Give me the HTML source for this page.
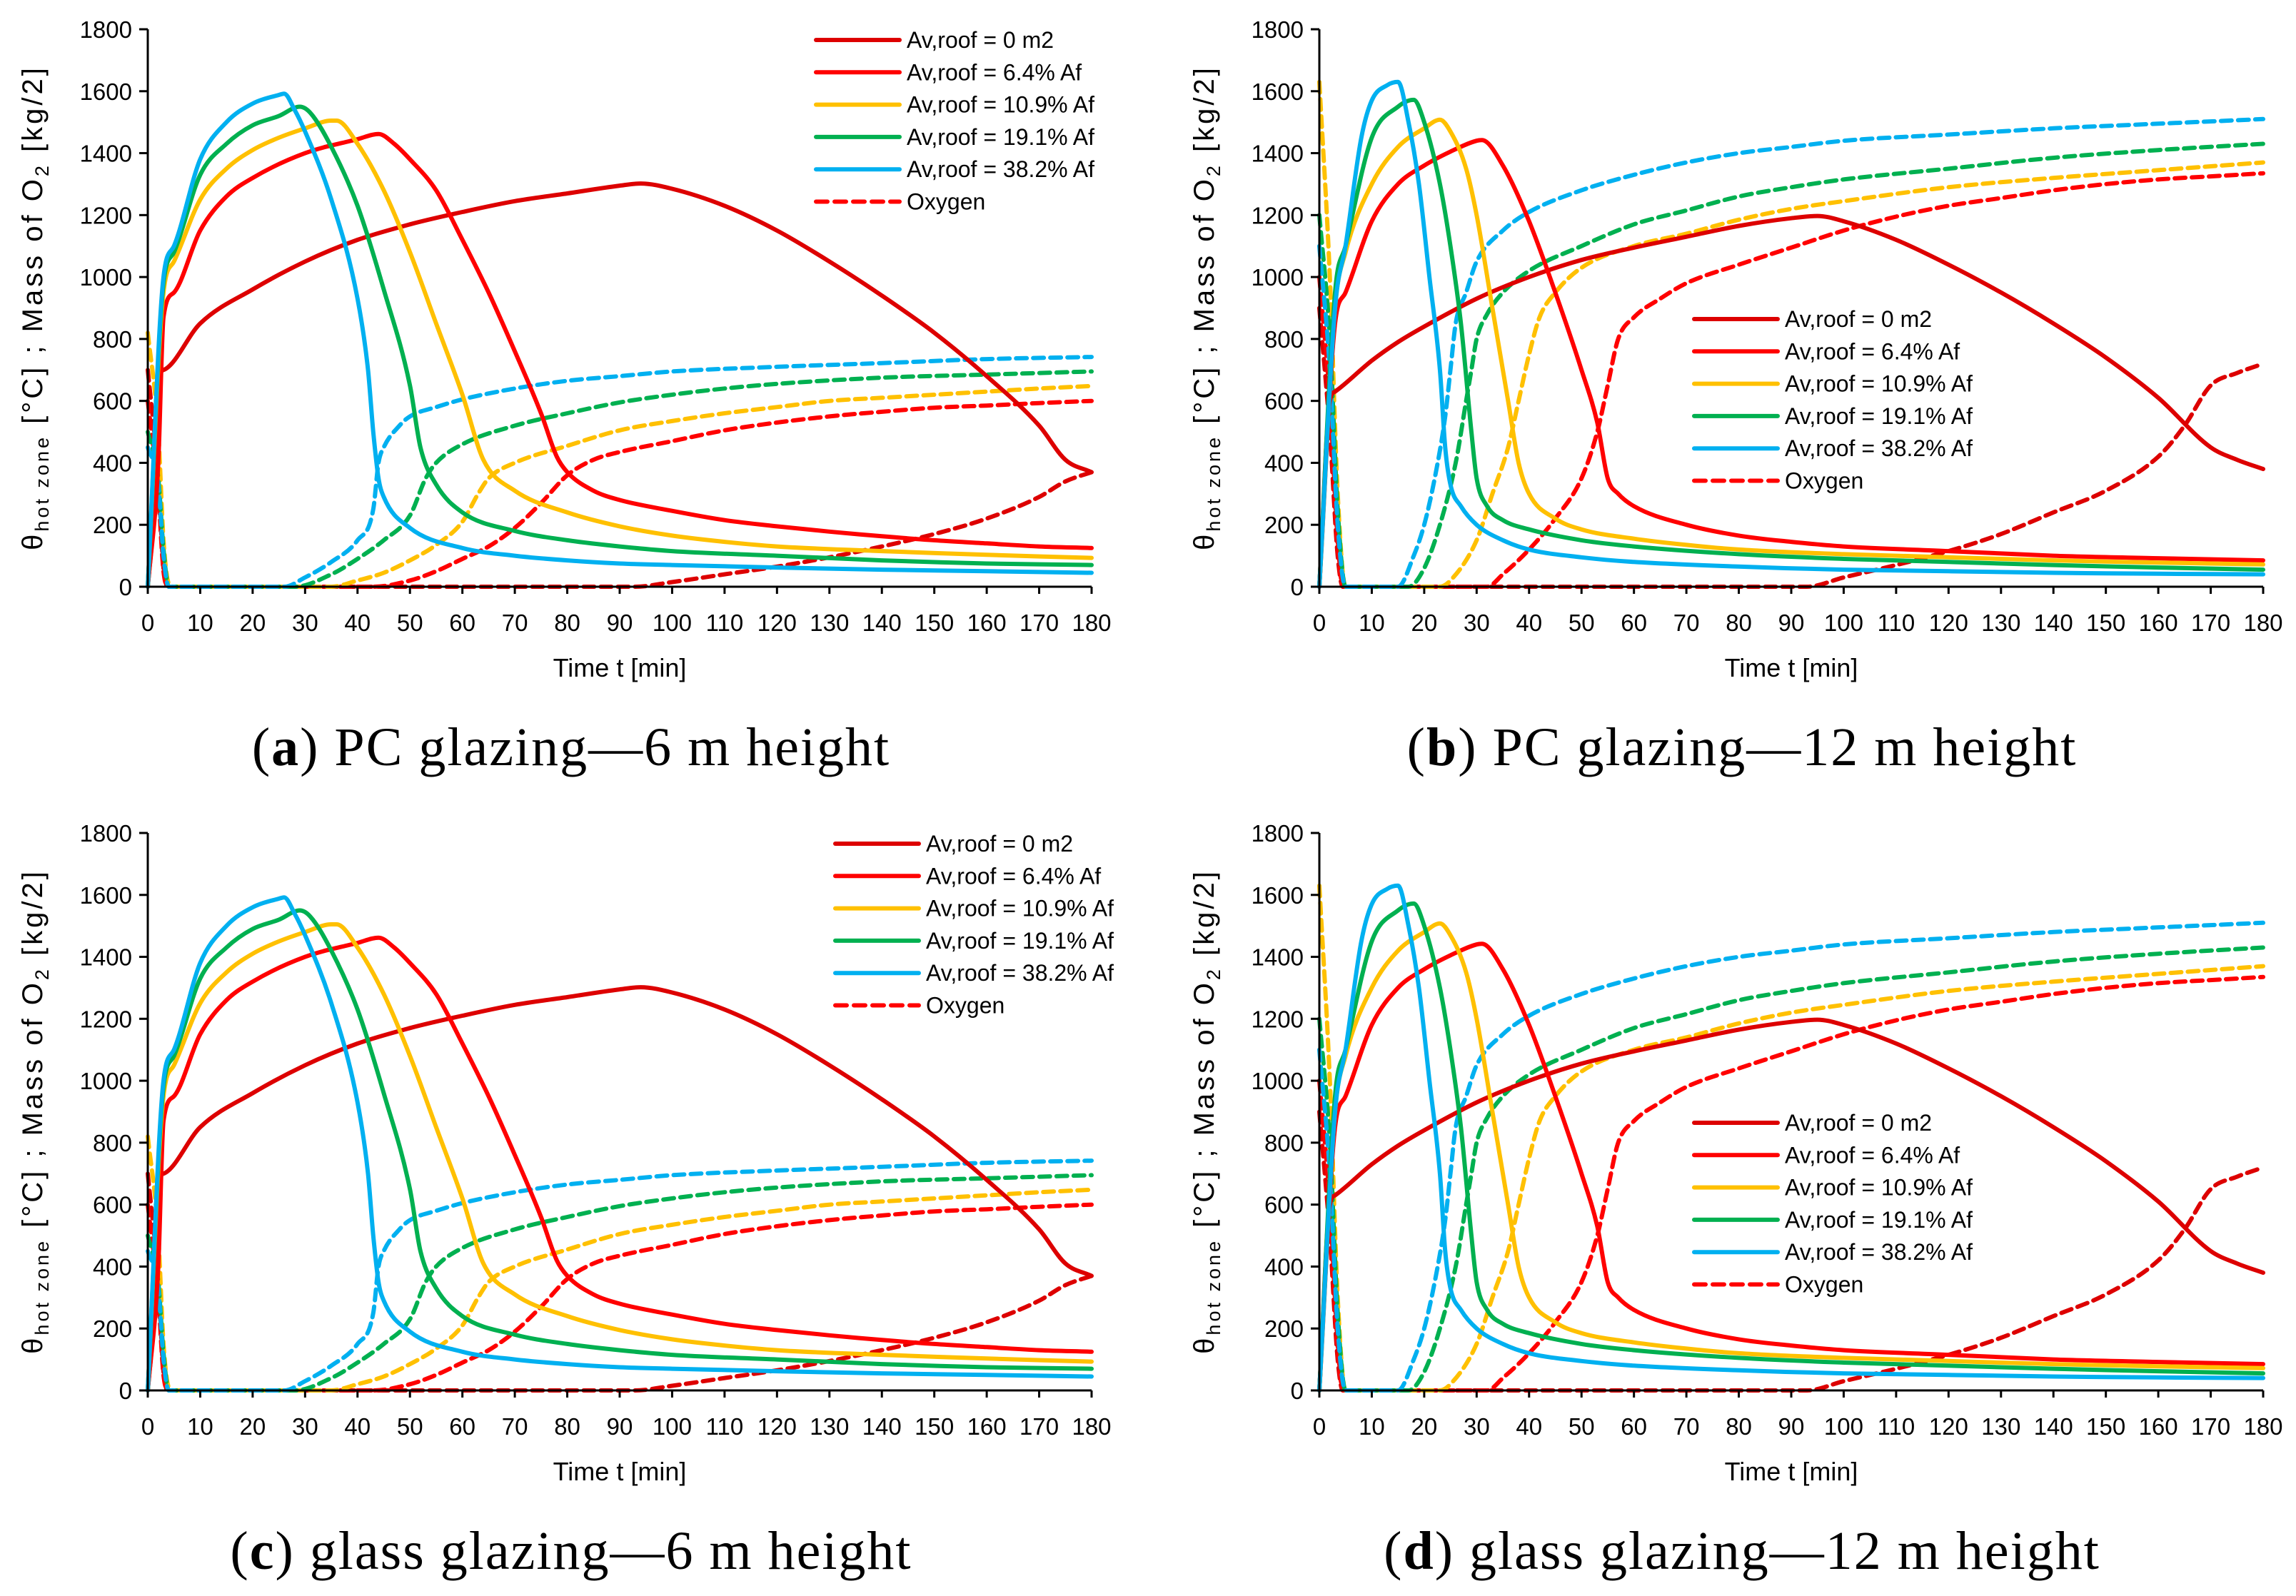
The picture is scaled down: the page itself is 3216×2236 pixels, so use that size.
<!DOCTYPE html>
<html><head><meta charset="utf-8">
<style>
html,body{margin:0;padding:0;background:#fff;}
svg{display:block;}
text{font-family:"Liberation Sans",sans-serif;fill:#000;}
.cap{font-family:"Liberation Serif",serif;}
</style></head>
<body>
<svg id="fig" width="3216" height="2236" viewBox="0 0 3216 2236" xmlns="http://www.w3.org/2000/svg"></svg>
<script>
// ===== Data: 6 m height (panels a, c) =====
const xTicks = [0,10,20,30,40,50,60,70,80,90,100,110,120,130,140,150,160,170,180];
const yTicks = [0,200,400,600,800,1000,1200,1400,1600,1800];
const legendLabels = ["Av,roof = 0 m2","Av,roof = 6.4% Af","Av,roof = 10.9% Af","Av,roof = 19.1% Af","Av,roof = 38.2% Af","Oxygen"];
const seriesColors = ["#dd0000","#ff0000","#ffc000","#00b050","#00b0f0"];

const h6_T_0 = [[0,0],[1.5,300],[2.5,690],[3,700],[10,850],[20,960],[30,1050],[40,1120],[50,1170],[60,1210],[70,1245],[80,1270],[90,1295],[94,1302],[100,1285],[110,1230],[120,1150],[130,1050],[140,940],[150,820],[160,680],[170,520],[175,410],[180,370]];
const h6_T_64 = [[0,0],[2,400],[3,870],[5,950],[10,1150],[15,1260],[20,1320],[30,1400],[40,1445],[44,1462],[47,1430],[50,1380],[55,1280],[60,1120],[65,950],[70,760],[75,560],[78,420],[80,370],[85,310],[90,280],[100,245],[110,215],[120,195],[130,178],[140,163],[150,150],[160,140],[170,130],[180,125]];
const h6_T_109 = [[0,0],[3,950],[5,1050],[10,1250],[15,1350],[20,1410],[25,1450],[30,1480],[35,1505],[36,1505],[40,1430],[45,1280],[50,1080],[55,850],[60,620],[64,410],[70,310],[80,240],[90,195],[100,165],[110,145],[120,130],[140,115],[160,103],[180,93]];
const h6_T_191 = [[0,0],[3,980],[5,1080],[10,1330],[15,1430],[20,1490],[25,1520],[29,1550],[31,1530],[35,1420],[40,1230],[45,960],[50,650],[52,450],[55,330],[60,240],[70,180],[80,150],[90,130],[100,115],[120,100],[140,85],[160,75],[180,70]];
const h6_T_382 = [[0,0],[3,1000],[5,1100],[10,1380],[15,1500],[20,1560],[25,1588],[26,1592],[28,1540],[30,1470],[35,1250],[40,930],[42,700],[43,500],[44,350],[45,290],[50,190],[60,125],[70,100],[80,85],[90,75],[100,70],[120,62],[140,55],[160,50],[180,45]];
const h6_O_0 = [[0,700],[2,350],[3,60],[4,0],[93,0],[100,15],[110,40],[120,65],[130,95],[140,130],[150,170],[160,220],[170,290],[175,340],[180,370]];
const h6_O_64 = [[0,600],[2,300],[3,50],[4,0],[43,0],[50,20],[55,50],[60,90],[65,130],[70,190],[75,270],[80,360],[85,410],[90,435],[100,470],[110,505],[120,530],[130,550],[140,565],[150,578],[160,585],[170,593],[180,600]];
const h6_O_109 = [[0,820],[2,500],[3,150],[4,10],[5,0],[35,0],[40,20],[45,45],[50,85],[55,135],[60,210],[63,300],[65,350],[70,400],[80,455],[90,505],[100,535],[110,560],[120,580],[130,600],[140,610],[150,620],[160,630],[170,640],[180,648]];
const h6_O_191 = [[0,500],[2,350],[3,120],[4,0],[28,0],[35,40],[40,90],[45,150],[50,230],[53,350],[55,400],[60,460],[70,520],[80,560],[90,595],[100,620],[110,640],[120,655],[140,675],[160,685],[180,695]];
const h6_O_382 = [[0,450],[2,330],[3,100],[4,0],[26,0],[30,30],[35,80],[40,150],[43,250],[44,400],[45,450],[48,520],[50,550],[55,580],[60,605],[70,640],[80,665],[90,680],[100,695],[120,710],[140,722],[160,735],[180,742]];

// ===== Data: 12 m height (panels b, d) =====
const h12_T_0 = [[0,0],[2,600],[3,630],[10,730],[15,790],[20,840],[30,930],[40,1000],[50,1055],[60,1095],[70,1130],[80,1165],[90,1190],[95,1197],[100,1180],[110,1120],[120,1040],[130,950],[140,850],[150,740],[160,610],[170,450],[175,410],[180,380]];
const h12_T_64 = [[0,0],[3,850],[5,950],[10,1180],[15,1300],[20,1360],[25,1405],[30,1440],[31,1442],[35,1360],[40,1180],[45,950],[50,700],[53,530],[55,350],[57,300],[60,260],[70,200],[80,165],[90,145],[100,130],[120,115],[140,100],[160,92],[180,85]];
const h12_T_109 = [[0,0],[3,900],[5,1080],[10,1300],[15,1420],[20,1480],[23,1508],[25,1470],[28,1350],[30,1200],[33,900],[36,600],[38,400],[40,300],[45,220],[50,185],[60,155],[70,135],[80,120],[100,105],[120,95],[140,85],[160,78],[180,72]];
const h12_T_191 = [[0,0],[3,950],[5,1100],[10,1450],[15,1550],[18,1572],[20,1500],[23,1300],[25,1100],[27,850],[29,500],[30,350],[32,260],[35,215],[40,185],[50,150],[60,130],[80,105],[100,90],[120,80],[140,70],[160,62],[180,55]];
const h12_T_382 = [[0,0],[3,900],[5,1100],[8,1450],[10,1570],[13,1620],[15,1630],[17,1500],[19,1300],[21,1000],[23,700],[24,450],[25,330],[27,260],[30,200],[35,150],[40,120],[50,95],[60,80],[80,65],[100,55],[120,50],[140,45],[160,42],[180,40]];
const h12_O_0 = [[0,900],[2,500],[3.5,100],[4.5,0],[93,0],[100,30],[110,70],[120,115],[130,170],[140,240],[150,310],[160,420],[165,520],[170,650],[175,690],[180,720]];
const h12_O_64 = [[0,1000],[2,600],[3.5,150],[4.5,0],[32,0],[35,40],[40,120],[45,220],[50,350],[53,500],[55,650],[57,800],[60,870],[65,930],[70,980],[80,1040],[90,1095],[100,1150],[110,1195],[120,1230],[130,1255],[140,1280],[150,1300],[160,1315],[170,1325],[180,1335]];
const h12_O_109 = [[0,1630],[2,1000],[3.5,300],[5,0],[23,0],[25,20],[30,150],[33,300],[36,450],[38,600],[40,750],[42,870],[45,950],[50,1030],[60,1100],[70,1140],[80,1185],[90,1220],[100,1245],[120,1290],[140,1320],[160,1345],[180,1370]];
const h12_O_191 = [[0,1200],[2,800],[3.5,250],[5,0],[17,0],[20,60],[23,200],[26,400],[28,600],[29,700],[30,800],[32,880],[35,950],[40,1020],[50,1100],[60,1170],[70,1215],[80,1260],[90,1290],[100,1315],[120,1350],[140,1385],[160,1410],[180,1430]];
const h12_O_382 = [[0,1100],[2,700],[3.5,200],[5,0],[15,0],[18,100],[20,200],[22,350],[24,550],[25,700],[26,850],[28,950],[30,1050],[35,1150],[40,1210],[50,1280],[60,1330],[70,1370],[80,1400],[90,1420],[100,1440],[120,1460],[140,1480],[160,1495],[180,1510]];

const set6 = {T:[h6_T_0,h6_T_64,h6_T_109,h6_T_191,h6_T_382], O:[h6_O_0,h6_O_64,h6_O_109,h6_O_191,h6_O_382]};
const set12 = {T:[h12_T_0,h12_T_64,h12_T_109,h12_T_191,h12_T_382], O:[h12_O_0,h12_O_64,h12_O_109,h12_O_191,h12_O_382]};

const NS = "http://www.w3.org/2000/svg";
const svg = document.getElementById('fig');
function mk(tag, attrs, parent){const e=document.createElementNS(NS,tag);for(const k in attrs)e.setAttribute(k,attrs[k]);(parent||svg).appendChild(e);return e;}

// monotone cubic path (Fritsch-Carlson) in pixel space
function smoothPath(pts){
  const n=pts.length; if(n<3) return 'M'+pts.map(p=>p.join(',')).join(' L');
  const d=[],m=new Array(n);
  for(let i=0;i<n-1;i++){const dx=pts[i+1][0]-pts[i][0];d.push(dx===0?0:(pts[i+1][1]-pts[i][1])/dx);}
  m[0]=d[0];m[n-1]=d[n-2];
  for(let i=1;i<n-1;i++){m[i]=(d[i-1]*d[i]<=0)?0:(d[i-1]+d[i])/2;}
  for(let i=0;i<n-1;i++){if(d[i]===0){m[i]=0;m[i+1]=0;continue;}const a=m[i]/d[i],b=m[i+1]/d[i],s=a*a+b*b;if(s>9){const t=3/Math.sqrt(s);m[i]=t*a*d[i];m[i+1]=t*b*d[i];}}
  let s='M'+pts[0][0].toFixed(1)+','+pts[0][1].toFixed(1);
  for(let i=0;i<n-1;i++){const h=(pts[i+1][0]-pts[i][0])/3;
    s+=' C'+(pts[i][0]+h).toFixed(1)+','+(pts[i][1]+m[i]*h).toFixed(1)+' '+(pts[i+1][0]-h).toFixed(1)+','+(pts[i+1][1]-m[i+1]*h).toFixed(1)+' '+pts[i+1][0].toFixed(1)+','+pts[i+1][1].toFixed(1);}
  return s;
}

const panels = [
 {id:'a', x0:207, y0:0, data:set6, leg:[1143,56], cap:["a"," PC glazing\u20146 m height"], capX:800},
 {id:'b', x0:1848, y0:0, data:set12, leg:[2373,447], cap:["b"," PC glazing\u201412 m height"], capX:2440},
 {id:'c', x0:207, y0:1126, data:set6, leg:[1170,1182], cap:["c"," glass glazing\u20146 m height"], capX:800},
 {id:'d', x0:1848, y0:1126, data:set12, leg:[2373,1573], cap:["d"," glass glazing\u201412 m height"], capX:2440}
];
const PW = 1322, YTOP = 41, YBOT = 822;

panels.forEach(p=>{
  const g = mk('g',{});
  
  
  const sx = t => p.x0 + t/180*PW;
  const sy = v => p.y0 + YBOT - v/1800*(YBOT-YTOP);
  const sg = mk('g',{},g);
  p.data.O.forEach((arr,i)=>{
    const pl = mk('path',{d:smoothPath(arr.map(d=>[sx(d[0]),sy(d[1])])),fill:'none',stroke:seriesColors[i],'stroke-width':6,'stroke-dasharray':'15 9','stroke-linejoin':'round','stroke-linecap':'round'},sg);
    
    
  });
  p.data.T.forEach((arr,i)=>{
    const pl = mk('path',{d:smoothPath(arr.map(d=>[sx(d[0]),sy(d[1])])),fill:'none',stroke:seriesColors[i],'stroke-width':6,'stroke-linejoin':'round','stroke-linecap':'round'},sg);
    
    
  });
  const ax = mk('path',{d:`M${sx(0)},${sy(1800)} V${sy(0)} H${sx(180)}`,fill:'none',stroke:'#000','stroke-width':3},g);
  
  
  yTicks.forEach(v=>{
    mk('line',{x1:sx(0)-12,x2:sx(0),y1:sy(v),y2:sy(v),stroke:'#000','stroke-width':3},g);
    const t = mk('text',{x:sx(0)-22,y:sy(v)+12,'text-anchor':'end','font-size':33},g);
    t.textContent = v;
    
    
  });
  xTicks.forEach(v=>{
    mk('line',{x1:sx(v),x2:sx(v),y1:sy(0),y2:sy(0)+10,stroke:'#000','stroke-width':3},g);
    const t = mk('text',{x:sx(v),y:sy(0)+62,'text-anchor':'middle','font-size':33},g);
    t.textContent = v;
    
    
  });
  const xt = mk('text',{x:sx(90),y:p.y0+948,'text-anchor':'middle','font-size':36},g);
  xt.textContent = 'Time t [min]';
  
  
  const yt = mk('text',{transform:`translate(${p.x0-148},${p.y0+431}) rotate(-90)`,'text-anchor':'middle','font-size':40,'letter-spacing':4},g);
  yt.innerHTML = 'θ<tspan font-size="27" dy="9">hot zone</tspan><tspan dy="-9"> [°C] ; Mass of O</tspan><tspan font-size="27" dy="9">2</tspan><tspan dy="-9"> [kg/2]</tspan>';
  
  
  const lg = mk('g',{},g);
  
  
  legendLabels.forEach((lab,i)=>{
    const y = p.leg[1] + i*45.3;
    const col = i<5 ? seriesColors[i] : '#ff0000';
    const ln = mk('line',{x1:p.leg[0],x2:p.leg[0]+117,y1:y,y2:y,stroke:col,'stroke-width':6,'stroke-linecap':'round'},lg);
    if(i===5) ln.setAttribute('stroke-dasharray','16 10');
    const t = mk('text',{x:p.leg[0]+127,y:y+11,'font-size':32},lg);
    t.textContent = lab;
    
    
  });
  const c = mk('text',{x:p.capX,y:p.y0+1072,'text-anchor':'middle','font-size':76,'letter-spacing':2,class:'cap'},g);
  c.innerHTML = '(<tspan font-weight="bold">'+p.cap[0]+'</tspan>)'+p.cap[1];
  
  
});
</script>
</body></html>
